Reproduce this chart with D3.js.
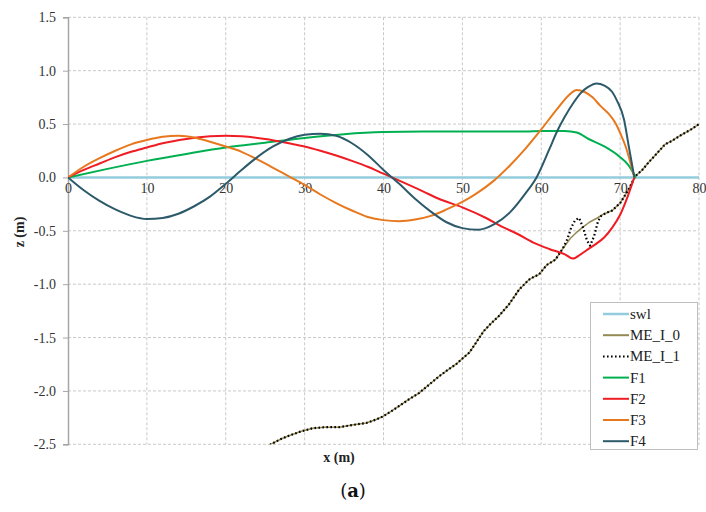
<!DOCTYPE html>
<html>
<head>
<meta charset="utf-8">
<script src="https://cdn.jsdelivr.net/npm/d3@7"></script>
<style>
  html, body { margin: 0; padding: 0; background: #fff; }
  svg { display: block; }
</style>
</head>
<body>
<svg id="chart" width="706" height="512"></svg>
<script>
// ---------- data ----------
const xTicks = [0, 10, 20, 30, 40, 50, 60, 70, 80];
const yTicks = [1.5, 1.0, 0.5, 0.0, -0.5, -1.0, -1.5, -2.0, -2.5];
const seriesNames = ["swl", "ME_I_0", "ME_I_1", "F1", "F2", "F3", "F4"];

const swl = [[0, 0], [80, 0]];

const ME_I_0 = [[24,-2.6],[25.7,-2.5],[27,-2.45],[28,-2.42],[29.5,-2.38],[31,-2.35],[32.5,-2.34],[34.4,-2.34],[36,-2.32],[37.8,-2.30],[39,-2.27],[39.9,-2.24],[41,-2.19],[42,-2.14],[43.2,-2.08],[44.5,-2.02],[45.8,-1.94],[47.1,-1.86],[48.2,-1.80],[49.2,-1.75],[50.1,-1.69],[50.9,-1.64],[51.8,-1.54],[52.7,-1.44],[53.6,-1.37],[54.6,-1.30],[55.9,-1.19],[57.2,-1.05],[58.4,-0.96],[59.1,-0.93],[59.7,-0.91],[60.7,-0.82],[61.8,-0.77],[62.7,-0.67],[63.7,-0.57],[64.4,-0.52],[65.2,-0.47],[66.1,-0.42],[67.1,-0.38],[68,-0.34],[69,-0.31],[70,-0.24],[70.6,-0.17],[71.1,-0.11],[71.9,0.01],[72.8,0.07],[73.6,0.14],[74.6,0.22],[75.7,0.31],[76.5,0.34],[77.8,0.40],[79,0.45],[80,0.5]];

const ME_I_1 = [[24,-2.6],[25.7,-2.5],[27,-2.45],[28,-2.42],[29.5,-2.38],[31,-2.35],[32.5,-2.34],[34.4,-2.34],[36,-2.32],[37.8,-2.30],[39,-2.27],[39.9,-2.24],[41,-2.19],[42,-2.14],[43.2,-2.08],[44.5,-2.02],[45.8,-1.94],[47.1,-1.86],[48.2,-1.80],[49.2,-1.75],[50.1,-1.69],[50.9,-1.64],[51.8,-1.54],[52.7,-1.44],[53.6,-1.37],[54.6,-1.30],[55.9,-1.19],[57.2,-1.05],[58.4,-0.96],[59.1,-0.93],[59.7,-0.91],[60.7,-0.82],[61.8,-0.77],[62.7,-0.67],[63.3,-0.58],[63.8,-0.47],[64.3,-0.40],[64.8,-0.38],[65.3,-0.47],[65.8,-0.59],[66.2,-0.64],[66.7,-0.55],[67.2,-0.41],[67.6,-0.36],[68.3,-0.33],[69,-0.31],[70,-0.24],[70.6,-0.17],[71.1,-0.11],[71.9,0.01],[72.8,0.07],[73.6,0.14],[74.6,0.22],[75.7,0.31],[76.5,0.34],[77.8,0.40],[79,0.45],[80,0.5]];

const F1 = [[0,0],[5,0.08],[10,0.155],[15,0.22],[20,0.28],[25,0.325],[30,0.37],[35,0.405],[40,0.425],[45,0.43],[50,0.43],[55,0.43],[58,0.43],[60,0.435],[63,0.435],[64.5,0.42],[66,0.36],[68,0.29],[70,0.19],[71,0.12],[72,0]];

const F2 = [[0,0],[2,0.07],[4,0.13],[6,0.19],[8,0.24],[10,0.28],[12,0.32],[15,0.36],[18,0.385],[20,0.39],[22,0.385],[25,0.36],[28,0.32],[30,0.29],[32,0.25],[34,0.205],[36,0.155],[38,0.1],[40,0.035],[42,-0.03],[45,-0.13],[47,-0.2],[50,-0.28],[53,-0.38],[55,-0.46],[57,-0.53],[59,-0.61],[61,-0.67],[63,-0.72],[64,-0.76],[65,-0.72],[66,-0.67],[67,-0.62],[68,-0.56],[69,-0.47],[70,-0.35],[71,-0.17],[71.8,0]];

const F3 = [[0,0],[2,0.1],[4,0.18],[6,0.25],[8,0.31],[10,0.35],[12,0.38],[14,0.39],[16,0.375],[18,0.335],[20,0.29],[22,0.24],[24,0.17],[26,0.09],[28,0.01],[30,-0.07],[32,-0.16],[34,-0.24],[36,-0.31],[38,-0.37],[40,-0.40],[42,-0.41],[44,-0.395],[46,-0.36],[48,-0.30],[50,-0.23],[52,-0.14],[54,-0.03],[56,0.11],[58,0.27],[60,0.45],[62,0.64],[63.5,0.77],[64.5,0.82],[65.5,0.80],[66.5,0.75],[67.5,0.67],[68.5,0.60],[69.4,0.51],[70.1,0.40],[70.7,0.29],[71.3,0.14],[71.8,0]];

const F4 = [[0,0],[2,-0.12],[4,-0.22],[6,-0.30],[8,-0.36],[10,-0.39],[12,-0.38],[14,-0.34],[16,-0.27],[18,-0.18],[20,-0.06],[22,0.07],[24,0.19],[26,0.29],[28,0.36],[30,0.40],[32,0.41],[34,0.39],[36,0.32],[38,0.21],[40,0.07],[42,-0.06],[44,-0.20],[46,-0.32],[48,-0.42],[50,-0.475],[52,-0.49],[54,-0.44],[56,-0.33],[58,-0.15],[59.4,0.0],[61,0.26],[62,0.43],[63,0.57],[64,0.69],[65,0.79],[66,0.85],[67,0.88],[68,0.86],[69,0.80],[69.6,0.72],[70.5,0.54],[71.1,0.29],[71.8,0]];

// ---------- layout ----------
const svg = d3.select("#chart");
const X0 = 68, X1 = 699, Y0 = 17.3, Y1 = 444.3;
const x = d3.scaleLinear().domain([0, 80]).range([X0, X1]);
const y = d3.scaleLinear().domain([1.5, -2.5]).range([Y0, Y1]);

const serif = "Liberation Serif, Times New Roman, serif";

svg.append("defs").append("clipPath").attr("id", "plot")
  .append("rect").attr("x", X0).attr("y", Y0 - 2).attr("width", X1 - X0 + 2).attr("height", Y1 - Y0 + 2);

// grid
const grid = svg.append("g");
grid.selectAll("line.h").data(yTicks).join("line")
  .attr("x1", X0).attr("x2", X1)
  .attr("y1", d => y(d)).attr("y2", d => y(d))
  .attr("stroke", "#c9c9c9").attr("stroke-width", 1).attr("stroke-dasharray", "3,2");
grid.selectAll("line.v").data(xTicks.slice(1)).join("line")
  .attr("x1", d => x(d)).attr("x2", d => x(d))
  .attr("y1", Y0).attr("y2", Y1)
  .attr("stroke", "#c9c9c9").attr("stroke-width", 1).attr("stroke-dasharray", "3,2");

// y axis
const fmt = d => d3.format(".1f")(d).replace("\u2212", "-");
const yAxis = d3.axisLeft(y).tickValues(yTicks).tickFormat(fmt).tickSize(5).tickPadding(7);
const gy = svg.append("g").attr("transform", `translate(${X0},0)`).call(yAxis);
gy.attr("font-family", null);
gy.select(".domain").attr("stroke", "#a6a6a6").attr("stroke-width", 1.5);
gy.selectAll(".tick line").attr("stroke", "#a6a6a6");
gy.selectAll("text").attr("font-family", serif).attr("font-size", 14).attr("fill", "#333");

// x axis tick labels along z = 0
const xAxis = d3.axisBottom(x).tickValues(xTicks).tickFormat(d3.format("d")).tickSize(0).tickPadding(6);
const gx = svg.append("g").attr("transform", `translate(0,${y(0)})`).call(xAxis);
gx.attr("font-family", null);
gx.select(".domain").remove();
gx.selectAll("text").attr("font-family", serif).attr("font-size", 14).attr("fill", "#333");

// series
const plot = svg.append("g").attr("clip-path", "url(#plot)");
const linear = d3.line().x(d => x(d[0])).y(d => y(d[1]));
const smooth = d3.line().x(d => x(d[0])).y(d => y(d[1])).curve(d3.curveMonotoneX);

const styles = {
  swl:    { data: swl,    color: "#93cddd", width: 2.5, dash: null, gen: linear },
  ME_I_0: { data: ME_I_0, color: "#948a54", width: 1.5, dash: null, gen: linear },
  ME_I_1: { data: ME_I_1, color: "#000000", width: 2.2, dash: "1.6,2.4", gen: linear },
  F1:     { data: F1,     color: "#00b050", width: 2,   dash: null, gen: smooth },
  F2:     { data: F2,     color: "#f01c24", width: 2,   dash: null, gen: smooth },
  F3:     { data: F3,     color: "#e8781e", width: 2,   dash: null, gen: smooth },
  F4:     { data: F4,     color: "#2c5a6a", width: 2,   dash: null, gen: smooth }
};

seriesNames.forEach(name => {
  const s = styles[name];
  plot.append("path").datum(s.data)
    .attr("d", s.gen)
    .attr("fill", "none")
    .attr("stroke", s.color)
    .attr("stroke-width", s.width)
    .attr("stroke-linejoin", "round")
    .attr("stroke-dasharray", s.dash);
});

// axis titles
svg.append("text").attr("x", 339).attr("y", 462).attr("text-anchor", "middle")
  .attr("font-family", serif).attr("font-weight", "bold").attr("font-size", 14).attr("fill", "#222")
  .text("x (m)");
svg.append("text").attr("transform", "translate(24,232) rotate(-90)").attr("text-anchor", "middle")
  .attr("font-family", serif).attr("font-weight", "bold").attr("font-size", 14).attr("fill", "#222")
  .text("z (m)");

// caption
const cap = svg.append("text").attr("x", 353).attr("y", 497).attr("text-anchor", "middle")
  .attr("font-family", "DejaVu Serif, serif").attr("font-size", 18).attr("fill", "#111");
cap.append("tspan").text("(");
cap.append("tspan").attr("font-weight", "bold").text("a");
cap.append("tspan").text(")");

// legend
const lg = svg.append("g");
lg.append("rect").attr("x", 590.5).attr("y", 302.5).attr("width", 107).attr("height", 147)
  .attr("fill", "#fff").attr("stroke", "#bfbfbf").attr("stroke-width", 1);
seriesNames.forEach((name, i) => {
  const s = styles[name];
  const cy = 314 + i * 21.2;
  lg.append("line").attr("x1", 603).attr("x2", 629).attr("y1", cy).attr("y2", cy)
    .attr("stroke", s.color)
    .attr("stroke-width", name === "swl" ? 2.5 : 2)
    .attr("stroke-dasharray", s.dash);
  lg.append("text").attr("x", 630).attr("y", cy + 5)
    .attr("font-family", serif).attr("font-size", 15).attr("fill", "#222").text(name);
});
</script>
</body>
</html>
